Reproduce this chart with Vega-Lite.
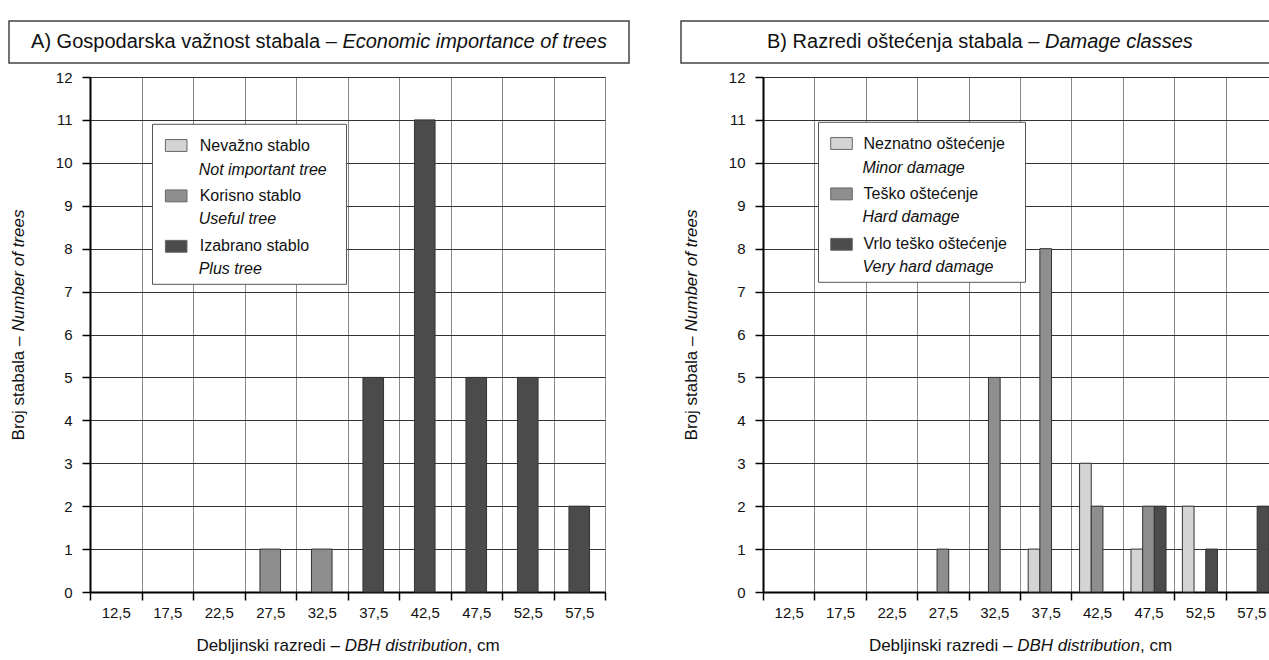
{
  "$schema": "https://vega.github.io/schema/vega-lite/v6.json",
  "padding": {"left": 0, "top": 20, "right": 0, "bottom": 0},
  "background": "white",
  "config": {
    "font": "Liberation Sans",
    "view": {"stroke": "#444", "strokeWidth": 1},
    "axis": {"labelFont": "Liberation Sans", "titleFont": "Liberation Sans", "labelColor": "#111", "titleColor": "#111", "titleFontWeight": "normal", "titleFontSize": 17, "labelFontSize": 15},
    "legend": {"labelFont": "Liberation Sans", "titleFont": "Liberation Sans"}
  },
  "datasets": {
    "none": [],
    "a": [
      {"dbh": "27,5", "n": 1, "klasa": "Korisno stablo", "en": "Useful tree"},
      {"dbh": "32,5", "n": 1, "klasa": "Korisno stablo", "en": "Useful tree"},
      {"dbh": "37,5", "n": 5, "klasa": "Izabrano stablo", "en": "Plus tree"},
      {"dbh": "42,5", "n": 11, "klasa": "Izabrano stablo", "en": "Plus tree"},
      {"dbh": "47,5", "n": 5, "klasa": "Izabrano stablo", "en": "Plus tree"},
      {"dbh": "52,5", "n": 5, "klasa": "Izabrano stablo", "en": "Plus tree"},
      {"dbh": "57,5", "n": 2, "klasa": "Izabrano stablo", "en": "Plus tree"}
    ],
    "b": [
      {"dbh": "27,5", "n": 1, "klasa": "Teško oštećenje", "en": "Hard damage"},
      {"dbh": "32,5", "n": 5, "klasa": "Teško oštećenje", "en": "Hard damage"},
      {"dbh": "37,5", "n": 1, "klasa": "Neznatno oštećenje", "en": "Minor damage"},
      {"dbh": "37,5", "n": 8, "klasa": "Teško oštećenje", "en": "Hard damage"},
      {"dbh": "42,5", "n": 3, "klasa": "Neznatno oštećenje", "en": "Minor damage"},
      {"dbh": "42,5", "n": 2, "klasa": "Teško oštećenje", "en": "Hard damage"},
      {"dbh": "47,5", "n": 1, "klasa": "Neznatno oštećenje", "en": "Minor damage"},
      {"dbh": "47,5", "n": 2, "klasa": "Teško oštećenje", "en": "Hard damage"},
      {"dbh": "47,5", "n": 2, "klasa": "Vrlo teško oštećenje", "en": "Very hard damage"},
      {"dbh": "52,5", "n": 2, "klasa": "Neznatno oštećenje", "en": "Minor damage"},
      {"dbh": "52,5", "n": 1, "klasa": "Vrlo teško oštećenje", "en": "Very hard damage"},
      {"dbh": "57,5", "n": 2, "klasa": "Vrlo teško oštećenje", "en": "Very hard damage"}
    ],
    "ta": [
      {"t": "A) Gospodarska važnost stabala –", "s": "r"},
      {"t": "Economic importance of trees", "s": "i"}
    ],
    "tb": [
      {"t": "B) Razredi oštećenja stabala –", "s": "r"},
      {"t": "Damage classes", "s": "i"}
    ]
  },
  "spacing": 5,
  "resolve": {"scale": {"fill": "independent", "opacity": "independent"}, "legend": {"fill": "independent", "opacity": "independent"}},
  "vconcat": [
    {
      "spacing": 7,
      "hconcat": [
        {"width": 1, "height": 1, "view": {"stroke": null}, "data": {"name": "none"}, "mark": {"type": "point", "opacity": 0}},
        {
          "spacing": 50,
          "hconcat": [
            {
              "width": 620, "height": 42,
              "view": {"stroke": "#444", "strokeWidth": 1.5, "fill": "white"},
              "data": {"name": "ta"},
              "layer": [
                {"transform": [{"filter": "datum.s == 'r'"}], "mark": {"type": "text", "align": "right", "baseline": "middle", "dx": 17.8, "fontSize": 20, "font": "Liberation Sans", "color": "#111"}, "encoding": {"text": {"field": "t"}}},
                {"transform": [{"filter": "datum.s == 'i'"}], "mark": {"type": "text", "align": "left", "baseline": "middle", "dx": 23.4, "fontSize": 20, "fontStyle": "italic", "font": "Liberation Sans", "color": "#111"}, "encoding": {"text": {"field": "t"}}}
              ]
            },
            {
              "width": 598, "height": 42,
              "view": {"stroke": "#444", "strokeWidth": 1.5, "fill": "white"},
              "data": {"name": "tb"},
              "layer": [
                {"transform": [{"filter": "datum.s == 'r'"}], "mark": {"type": "text", "align": "right", "baseline": "middle", "dx": 59.4, "fontSize": 20, "font": "Liberation Sans", "color": "#111"}, "encoding": {"text": {"field": "t"}}},
                {"transform": [{"filter": "datum.s == 'i'"}], "mark": {"type": "text", "align": "left", "baseline": "middle", "dx": 65, "fontSize": 20, "fontStyle": "italic", "font": "Liberation Sans", "color": "#111"}, "encoding": {"text": {"field": "t"}}}
              ]
            }
          ]
        }
      ]
    },
    {
      "spacing": 7,
      "resolve": {"scale": {"fill": "independent", "opacity": "independent"}, "legend": {"fill": "independent", "opacity": "independent"}},
      "hconcat": [
        {"width": 1, "height": 1, "view": {"stroke": null}, "data": {"name": "none"}, "mark": {"type": "point", "opacity": 0}},
        {
          "spacing": 74,
          "resolve": {"scale": {"fill": "independent", "opacity": "independent"}, "legend": {"fill": "independent", "opacity": "independent"}},
          "hconcat": [
            {
              "width": 515, "height": 515,
              "data": {"name": "a"},
              "layer": [
                {
                  "mark": {"type": "bar", "width": {"band": 0.4}, "stroke": "#333", "strokeWidth": 1},
                  "encoding": {
                    "x": {"field": "dbh", "type": "ordinal", "sort": null,
                      "scale": {"domain": ["12,5","17,5","22,5","27,5","32,5","37,5","42,5","47,5","52,5","57,5"], "paddingInner": 0, "paddingOuter": 0},
                      "axis": {"orient": "bottom", "title": "Debljinski razredi –", "titleX": 249.5, "titleY": 53, "titleAlign": "right", "titleBaseline": "middle", "tickBand": "extent", "grid": true, "gridColor": "#888", "gridWidth": 1, "tickSize": 8, "tickColor": "#000", "tickWidth": 1.5, "labelPadding": 5, "labelAngle": 0, "domainColor": "#000", "domainWidth": 2}},
                    "y": {"field": "n", "type": "quantitative",
                      "scale": {"domain": [0, 12], "nice": false},
                      "axis": {"orient": "left", "title": "Broj stabala –", "titleX": -72, "titleY": 259, "titleAlign": "right", "titleAngle": 270, "titleBaseline": "middle", "values": [0,1,2,3,4,5,6,7,8,9,10,11,12], "grid": true, "gridColor": "#333", "gridWidth": 1, "tickSize": 8, "tickColor": "#000", "tickWidth": 1.5, "labelPadding": 10, "domainColor": "#000", "domainWidth": 2}},
                    "fill": {"field": "klasa", "type": "nominal",
                      "scale": {"domain": ["Nevažno stablo", "Korisno stablo", "Izabrano stablo"], "range": ["#d4d4d4", "#8e8e8e", "#4b4b4b"]},
                      "legend": {"orient": "none", "legendX": 74.7, "legendY": 57, "title": null, "symbolType": "M-1,-0.55H1V0.55H-1Z", "symbolSize": 466, "symbolStrokeColor": "#666", "symbolStrokeWidth": 1, "labelFontSize": 16, "labelColor": "#111", "labelOffset": 12, "rowPadding": 30.4, "padding": 0, "zindex": 2}},
                    "opacity": {"field": "en", "type": "nominal",
                      "scale": {"domain": ["Not important tree", "Useful tree", "Plus tree"], "range": [1, 1, 1]},
                      "legend": {"orient": "none", "legendX": 62, "legendY": 46.8, "title": "\u2800", "titleLimit": 400, "titleOrient": "top", "titleFontSize": 6, "titlePadding": 22.2, "labelExpr": "datum.label + '\u2800'", "symbolType": "M-1,-0.55H1V0.55H-1Z", "symbolSize": 466, "symbolFillColor": "transparent", "symbolStrokeColor": "transparent", "symbolStrokeWidth": 0, "labelFontSize": 16, "labelFontStyle": "italic", "labelColor": "#111", "labelOffset": 17.7, "rowPadding": 30.4, "padding": 7, "fillColor": "white", "strokeColor": "#555", "zindex": 1}}
                  }
                },
                {
                  "mark": {"type": "bar", "opacity": 0},
                  "encoding": {
                    "x": {"field": "dbh", "type": "ordinal", "sort": null, "axis": {"orient": "bottom", "title": "DBH distribution", "titleFontStyle": "italic", "titleX": 254.2, "titleY": 53, "titleAlign": "left", "titleBaseline": "middle", "labels": false, "ticks": false, "domain": false, "grid": false}},
                    "y": {"field": "n", "type": "quantitative", "axis": {"orient": "left", "title": "Number of trees", "titleFontStyle": "italic", "titleX": -72, "titleY": 254, "titleAlign": "left", "titleAngle": 270, "titleBaseline": "middle", "labels": false, "ticks": false, "domain": false, "grid": false}}
                  }
                },
                {
                  "mark": {"type": "bar", "opacity": 0},
                  "encoding": {
                    "x": {"field": "dbh", "type": "ordinal", "sort": null, "axis": {"orient": "bottom", "title": ", cm", "titleX": 377, "titleY": 53, "titleAlign": "left", "titleBaseline": "middle", "labels": false, "ticks": false, "domain": false, "grid": false}}
                  }
                }
              ],
              "resolve": {"axis": {"x": "independent", "y": "independent"}}
            },
            {
              "width": 514, "height": 515,
              "data": {"name": "b"},
              "layer": [
                {
                  "mark": {"type": "bar", "stroke": "#333", "strokeWidth": 1},
                  "encoding": {
                    "x": {"field": "dbh", "type": "ordinal", "sort": null,
                      "scale": {"domain": ["12,5","17,5","22,5","27,5","32,5","37,5","42,5","47,5","52,5","57,5"], "paddingInner": 0, "paddingOuter": 0},
                      "axis": {"orient": "bottom", "title": "Debljinski razredi –", "titleX": 249, "titleY": 53, "titleAlign": "right", "titleBaseline": "middle", "tickBand": "extent", "grid": true, "gridColor": "#888", "gridWidth": 1, "tickSize": 8, "tickColor": "#000", "tickWidth": 1.5, "labelPadding": 5, "labelAngle": 0, "domainColor": "#000", "domainWidth": 2}},
                    "xOffset": {"field": "klasa", "type": "nominal",
                      "scale": {"domain": ["Neznatno oštećenje", "Teško oštećenje", "Vrlo teško oštećenje"], "paddingInner": 0, "paddingOuter": 0.7}},
                    "y": {"field": "n", "type": "quantitative",
                      "scale": {"domain": [0, 12], "nice": false},
                      "axis": {"orient": "left", "title": "Broj stabala –", "titleX": -72, "titleY": 259, "titleAlign": "right", "titleAngle": 270, "titleBaseline": "middle", "values": [0,1,2,3,4,5,6,7,8,9,10,11,12], "grid": true, "gridColor": "#333", "gridWidth": 1, "tickSize": 8, "tickColor": "#000", "tickWidth": 1.5, "labelPadding": 10, "domainColor": "#000", "domainWidth": 2}},
                    "fill": {"field": "klasa", "type": "nominal",
                      "scale": {"domain": ["Neznatno oštećenje", "Teško oštećenje", "Vrlo teško oštećenje"], "range": ["#d4d4d4", "#8e8e8e", "#4b4b4b"]},
                      "legend": {"orient": "none", "legendX": 67, "legendY": 55, "title": null, "symbolType": "M-1,-0.55H1V0.55H-1Z", "symbolSize": 466, "symbolStrokeColor": "#666", "symbolStrokeWidth": 1, "labelFontSize": 16, "labelColor": "#111", "labelOffset": 10.5, "rowPadding": 30.4, "padding": 0, "zindex": 2}},
                    "opacity": {"field": "en", "type": "nominal",
                      "scale": {"domain": ["Minor damage", "Hard damage", "Very hard damage"], "range": [1, 1, 1]},
                      "legend": {"orient": "none", "legendX": 55, "legendY": 44.8, "title": "\u2800", "titleLimit": 400, "titleOrient": "top", "titleFontSize": 6, "titlePadding": 22.2, "labelExpr": "datum.label + '\u2800\u2800'", "symbolType": "M-1,-0.55H1V0.55H-1Z", "symbolSize": 466, "symbolFillColor": "transparent", "symbolStrokeColor": "transparent", "symbolStrokeWidth": 0, "labelFontSize": 16, "labelFontStyle": "italic", "labelColor": "#111", "labelOffset": 15.4, "rowPadding": 30.4, "padding": 7, "fillColor": "white", "strokeColor": "#555", "zindex": 1}}
                  }
                },
                {
                  "mark": {"type": "bar", "opacity": 0},
                  "encoding": {
                    "x": {"field": "dbh", "type": "ordinal", "sort": null, "axis": {"orient": "bottom", "title": "DBH distribution", "titleFontStyle": "italic", "titleX": 253.7, "titleY": 53, "titleAlign": "left", "titleBaseline": "middle", "labels": false, "ticks": false, "domain": false, "grid": false}},
                    "y": {"field": "n", "type": "quantitative", "axis": {"orient": "left", "title": "Number of trees", "titleFontStyle": "italic", "titleX": -72, "titleY": 254, "titleAlign": "left", "titleAngle": 270, "titleBaseline": "middle", "labels": false, "ticks": false, "domain": false, "grid": false}}
                  }
                },
                {
                  "mark": {"type": "bar", "opacity": 0},
                  "encoding": {
                    "x": {"field": "dbh", "type": "ordinal", "sort": null, "axis": {"orient": "bottom", "title": ", cm", "titleX": 376.5, "titleY": 53, "titleAlign": "left", "titleBaseline": "middle", "labels": false, "ticks": false, "domain": false, "grid": false}}
                  }
                }
              ],
              "resolve": {"axis": {"x": "independent", "y": "independent"}}
            }
          ]
        }
      ]
    }
  ]
}
